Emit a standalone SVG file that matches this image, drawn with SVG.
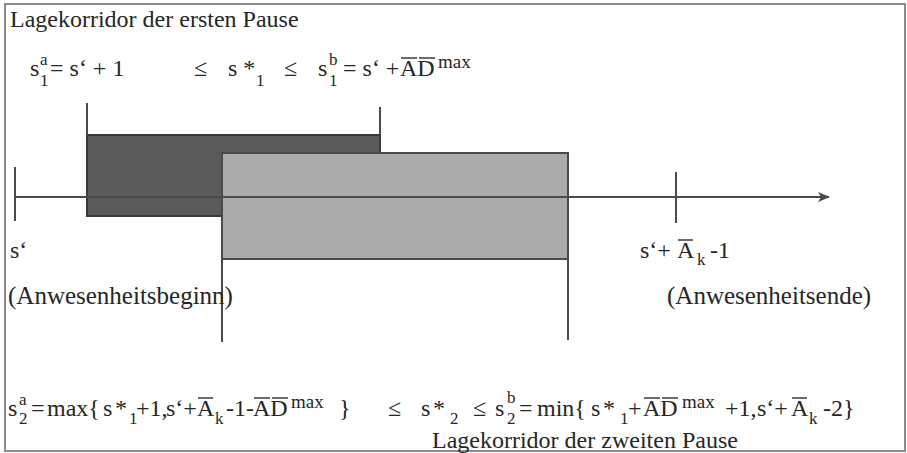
<svg xmlns="http://www.w3.org/2000/svg" width="907" height="453" viewBox="0 0 907 453">
<defs>
<style>
.t{font-family:"Liberation Serif","Times New Roman",serif;font-size:24px;fill:#262626}
.p{font-family:"Liberation Serif","Times New Roman",serif;font-size:25px;fill:#262626}
.s{font-family:"Liberation Serif","Times New Roman",serif;font-size:17px;fill:#262626}
.m{font-family:"Liberation Serif","Times New Roman",serif;font-size:19px;fill:#262626}
.ln{stroke:#4a4a4a;stroke-width:2;fill:none}
.ov{stroke:#3a3a3a;stroke-width:1.5}
</style>
<marker id="arr" markerWidth="12" markerHeight="10" refX="11" refY="5" orient="auto" markerUnits="userSpaceOnUse">
<path d="M0,0 L12,5 L0,10 L3,5 z" fill="#4a4a4a"/>
</marker>
</defs>
<rect x="0" y="0" width="907" height="453" fill="#ffffff"/>
<rect x="5" y="4" width="900" height="447" fill="none" stroke="#8c8c8c" stroke-width="2"/>

<g id="corridor1">
<rect x="87" y="135" width="293" height="81" fill="#5a5a5a" stroke="#3a3a3a" stroke-width="2"/>
<line class="ln" x1="87" y1="103" x2="87" y2="135"/>
<line class="ln" x1="380" y1="107" x2="380" y2="135"/>
</g>
<g id="corridor2">
<rect x="222" y="153" width="346" height="106" fill="#ababab" stroke="#4a4a4a" stroke-width="2"/>
<line class="ln" x1="222" y1="259" x2="222" y2="342"/>
<line class="ln" x1="568" y1="259" x2="568" y2="340"/>
</g>

<g id="connectors">
<line class="ln" x1="15" y1="197" x2="829" y2="197" marker-end="url(#arr)"/>
<line class="ln" x1="15" y1="167" x2="15" y2="221"/>
<line class="ln" x1="676" y1="172" x2="676" y2="223"/>
</g>

<g id="labels">
<text class="t" x="10" y="27">Lagekorridor der ersten Pause</text>
<text class="t" x="432" y="448">Lagekorridor der zweiten Pause</text>
<text class="t" x="10" y="258">s‘</text>
<text class="p" x="8" y="304">(Anwesenheitsbeginn)</text>
<text class="p" x="667" y="304">(Anwesenheitsende)</text>
<g id="end-label">
<text class="t" x="640" y="258">s‘+</text>
<text class="t" x="677" y="258">A</text>
<line class="ov" x1="678" y1="240" x2="693" y2="240"/>
<text class="s" x="697" y="265">k</text>
<text class="t" x="710" y="258">-1</text>
</g>
</g>

<g id="formula1">
<text class="t" x="30" y="76">s</text>
<text class="s" x="40" y="65">a</text>
<text class="s" x="40" y="86">1</text>
<text class="t" x="50" y="76">= s‘ + 1</text>
<text class="t" x="194" y="76">≤</text>
<text class="t" x="228" y="76">s *</text>
<text class="s" x="256" y="86">1</text>
<text class="t" x="284" y="76">≤</text>
<text class="t" x="318" y="76">s</text>
<text class="s" x="329" y="65">b</text>
<text class="s" x="329" y="86">1</text>
<text class="t" x="343" y="76">=  s‘ +</text>
<text class="t" x="400" y="76">AD</text>
<line class="ov" x1="401" y1="58" x2="417" y2="58"/>
<line class="ov" x1="419" y1="58" x2="435" y2="58"/>
<text class="m" x="438" y="68">max</text>
</g>

<g id="formula2">
<text class="t" x="8" y="416">s</text>
<text class="s" x="19" y="405">a</text>
<text class="s" x="19" y="424">2</text>
<text class="t" x="31" y="416">=</text>
<text class="t" x="47" y="416">max{</text>
<text class="t" x="103" y="416">s</text>
<text class="t" x="115" y="416">*</text>
<text class="s" x="129" y="424">1</text>
<text class="t" x="136" y="416">+1,</text>
<text class="t" x="166" y="416">s‘+</text>
<text class="t" x="197" y="416">A</text>
<line class="ov" x1="198" y1="398" x2="213" y2="398"/>
<text class="s" x="215" y="424">k</text>
<text class="t" x="226" y="416">-1-</text>
<text class="t" x="253" y="416">AD</text>
<line class="ov" x1="254" y1="398" x2="270" y2="398"/>
<line class="ov" x1="272" y1="398" x2="288" y2="398"/>
<text class="m" x="291" y="408">max</text>
<text class="t" x="339" y="416">}</text>
<text class="t" x="388" y="416">≤</text>
<text class="t" x="421" y="416">s</text>
<text class="t" x="433" y="416">*</text>
<text class="s" x="450" y="424">2</text>
<text class="t" x="473" y="416">≤</text>
<text class="t" x="495" y="416">s</text>
<text class="s" x="507" y="403">b</text>
<text class="s" x="507" y="424">2</text>
<text class="t" x="519" y="416">=</text>
<text class="t" x="537" y="416">min{</text>
<text class="t" x="591" y="416">s</text>
<text class="t" x="603" y="416">*</text>
<text class="s" x="620" y="424">1</text>
<text class="t" x="628" y="416">+</text>
<text class="t" x="643" y="416">AD</text>
<line class="ov" x1="644" y1="398" x2="660" y2="398"/>
<line class="ov" x1="662" y1="398" x2="678" y2="398"/>
<text class="m" x="682" y="408">max</text>
<text class="t" x="725" y="416">+1,</text>
<text class="t" x="757" y="416">s‘+</text>
<text class="t" x="791" y="416">A</text>
<line class="ov" x1="792" y1="398" x2="807" y2="398"/>
<text class="s" x="809" y="424">k</text>
<text class="t" x="823" y="416">-2}</text>
</g>
</svg>
